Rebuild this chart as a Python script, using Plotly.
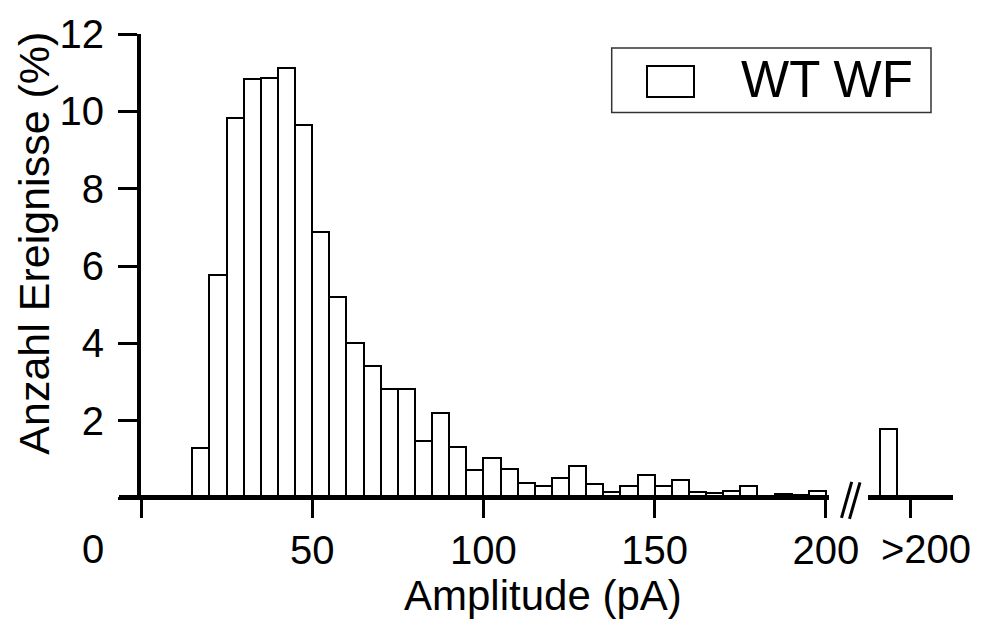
import plotly.graph_objects as go

# ---- data ----
bin_start = list(range(15, 200, 5))          # pA, bin width 5
bin_width = 5
pct = [1.29, 5.76, 9.83, 10.84, 10.86, 11.12, 9.65, 6.88, 5.19, 4.00,
       3.41, 2.81, 2.81, 1.48, 2.21, 1.31, 0.72, 1.03, 0.75, 0.40,
       0.31, 0.52, 0.83, 0.37, 0.16, 0.31, 0.60, 0.31, 0.47, 0.16,
       0.12, 0.19, 0.30, 0.06, 0.10, 0.08, 0.17]
overflow_label = ">200"
overflow_pos = 218.4      # where the ">200" bar is placed on the broken axis
overflow_tick = 224.7
overflow_pct = 1.78
xtick_vals = [0, 50, 100, 150, 200]
ytick_vals = [0, 2, 4, 6, 8, 10, 12]
series_name = "WT WF"

# ---- layout geometry ----
W, H = 981, 625
L, R, T, B = 141, 25, 31, 127
XR = [0, 238]
YR = [0, 12]
PW, PH = W - L - R, H - T - B

def px2x(px):   # pixel -> paper x
    return (px - L) / PW

def py2y(py):   # pixel -> paper y
    return (H - B - py) / PH

FONT = "Liberation Sans, Arial, Helvetica, sans-serif"

fig = go.Figure()
fig.add_trace(go.Bar(
    x=[s + bin_width / 2 for s in bin_start], y=pct, width=bin_width,
    marker=dict(color="white", line=dict(color="black", width=2)),
    name=series_name, showlegend=False))
fig.add_trace(go.Bar(
    x=[overflow_pos], y=[overflow_pct], width=bin_width,
    marker=dict(color="white", line=dict(color="black", width=2)),
    name=overflow_label, showlegend=False))

shapes = []
# broken x axis line
y0 = py2y(497.5)
shapes.append(dict(type="line", xref="paper", yref="paper", x0=px2x(119), x1=px2x(829),
                   y0=y0, y1=y0, line=dict(color="black", width=5), layer="above"))
shapes.append(dict(type="line", xref="paper", yref="paper", x0=px2x(868), x1=px2x(953),
                   y0=y0, y1=y0, line=dict(color="black", width=5), layer="above"))
# break marks //
for (a, b, c, d) in [(841.5, 518, 851.7, 481.7), (849.5, 519, 860, 482.3)]:
    shapes.append(dict(type="line", xref="paper", yref="paper", x0=px2x(a), y0=py2y(b),
                       x1=px2x(c), y1=py2y(d), line=dict(color="black", width=3)))
# legend box
shapes.append(dict(type="rect", xref="paper", yref="paper", x0=px2x(611.7), x1=px2x(931),
                   y0=py2y(110), y1=py2y(45), line=dict(color="#333", width=1.5),
                   fillcolor="white"))
shapes.append(dict(type="rect", xref="paper", yref="paper", x0=px2x(647), x1=px2x(694),
                   y0=py2y(94.3), y1=py2y(63.3), line=dict(color="black", width=2),
                   fillcolor="white"))

annotations = [
    dict(text=series_name, xref="paper", yref="paper", x=px2x(739), y=py2y(77),
         xanchor="left", yanchor="middle", showarrow=False,
         font=dict(family=FONT, size=51, color="black")),
    dict(text="0", xref="paper", yref="paper", x=px2x(93), y=py2y(549.5),
         xanchor="center", yanchor="middle", showarrow=False,
         font=dict(family=FONT, size=40, color="black")),
    dict(text=overflow_label, xref="paper", yref="paper", x=px2x(926), y=py2y(549.5),
         xanchor="center", yanchor="middle", showarrow=False,
         font=dict(family=FONT, size=40, color="black")),
    dict(text="Amplitude (pA)", xref="paper", yref="paper", x=px2x(542.5), y=py2y(596),
         xanchor="center", yanchor="middle", showarrow=False,
         font=dict(family=FONT, size=42, color="black")),
    dict(text="Anzahl Ereignisse (%)", xref="paper", yref="paper", x=px2x(34), y=py2y(242),
         xanchor="center", yanchor="middle", textangle=-90, showarrow=False,
         font=dict(family=FONT, size=43, color="black")),
]

fig.update_layout(
    width=W, height=H,
    margin=dict(l=L, r=R, t=T, b=B, pad=0),
    paper_bgcolor="white", plot_bgcolor="white",
    bargap=0,
    shapes=shapes, annotations=annotations,
    xaxis=dict(range=XR, showgrid=False, zeroline=False, showline=False,
               tickmode="array", tickvals=xtick_vals + [overflow_tick],
               ticktext=["", "50", "100", "150", "200", ""],
               ticks="outside", ticklen=19, tickwidth=3, tickcolor="black",
               ticklabelstandoff=-2,
               tickfont=dict(family=FONT, size=40, color="black")),
    yaxis=dict(range=YR, showgrid=False, zeroline=False, showline=True,
               linecolor="black", linewidth=4,
               tickmode="array", tickvals=ytick_vals,
               ticktext=[""] + [str(v) for v in ytick_vals[1:]],
               ticks="outside", ticklen=19, tickwidth=3, tickcolor="black",
               ticklabelstandoff=6,
               tickfont=dict(family=FONT, size=40, color="black")),
    font=dict(family=FONT, color="black"),
)

fig.write_html("out.html")
